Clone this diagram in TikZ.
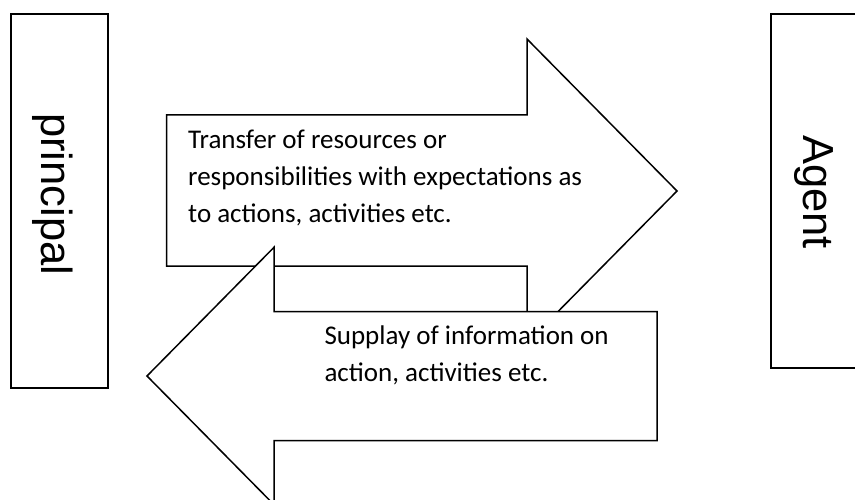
\documentclass[tikz,border=0pt]{standalone}
\usepackage{fontspec}
\setmainfont{Carlito}
\newfontfamily\boxfont{Liberation Sans}
\tikzset{
  shapeline/.style={draw=black, line width=1.5pt, fill=white, line join=miter},
  boxlabel/.style={rotate=-90, anchor=base west, inner sep=0pt, font=\boxfont\fontsize{43.5}{50}\selectfont},
  arrowtext/.style={anchor=base west, inner sep=0pt, font=\fontsize{27}{37.3}\selectfont}
}
\begin{document}
\begin{tikzpicture}[x=1pt, y=-1pt]
\useasboundingbox (0,0) rectangle (855,500);
\clip (0,0) rectangle (855,500);
\fill[white] (0,0) rectangle (855,500);
% side boxes
\draw[shapeline] (11,14) rectangle (108,388);
\draw[shapeline] (771,14) rectangle (880,368);
\node[boxlabel] (principal) at (41.7,113) {principal};
\node[boxlabel] (agent) at (803.3,135) {Agent};
% upper arrow (to the right)
\draw[shapeline] (166.5,115) -- (527,115) -- (527,39) -- (677,191) -- (527,343) -- (527,266) -- (166.5,266) -- cycle;
\node[arrowtext] (t1) at (188,148.3) {Transfer of resources or};
\node[arrowtext] (t2) at (188,185.6) {responsibilities with expectations as};
\node[arrowtext] (t3) at (188,222.9) {to actions, activities etc.};
% lower arrow (to the left)
\draw[shapeline] (657,311.5) -- (274,311.5) -- (274,247.3) -- (147,376) -- (274,504.7) -- (274,440.5) -- (657,440.5) -- cycle;
\node[arrowtext] (s1) at (324.3,344.3) {Supplay of information on};
\node[arrowtext] (s2) at (324.3,381.6) {action, activities etc.};
\end{tikzpicture}
\end{document}
